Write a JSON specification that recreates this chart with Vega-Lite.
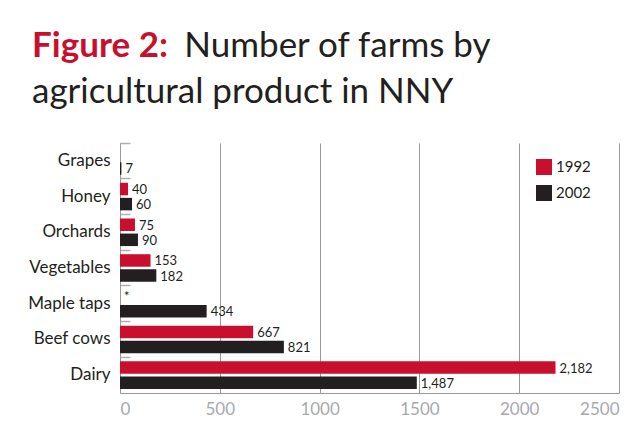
{
  "$schema": "https://vega.github.io/schema/vega-lite/v6.json",
  "width": 499,
  "height": 250,
  "autosize": {"type": "none"},
  "padding": {"left": 120, "top": 143, "right": 24, "bottom": 51},
  "background": "white",
  "title": {
    "text": "Figure 2:",
    "subtitle": ["\u200b\u00a0\u00a0\u00a0\u00a0\u00a0\u00a0\u00a0\u00a0\u00a0\u00a0\u00a0\u00a0\u00a0\u00a0\u00a0\u00a0\u00a0Number of farms by", "agricultural product in NNY"],
    "anchor": "start",
    "frame": "group",
    "dx": -88,
    "offset": 32,
    "font": "Lato",
    "fontSize": 35,
    "fontWeight": "bold",
    "color": "#c8102e",
    "subtitleFont": "Lato",
    "subtitleFontSize": 35,
    "subtitleFontWeight": "normal",
    "subtitleColor": "#231f20",
    "subtitleLineHeight": 46,
    "subtitlePadding": -35
  },
  "data": {
    "values": [
      {"product": "Grapes", "year": "2002", "farms": 7, "label": "7"},
      {"product": "Honey", "year": "1992", "farms": 40, "label": "40"},
      {"product": "Honey", "year": "2002", "farms": 60, "label": "60"},
      {"product": "Orchards", "year": "1992", "farms": 75, "label": "75"},
      {"product": "Orchards", "year": "2002", "farms": 90, "label": "90"},
      {"product": "Vegetables", "year": "1992", "farms": 153, "label": "153"},
      {"product": "Vegetables", "year": "2002", "farms": 182, "label": "182"},
      {"product": "Maple taps", "year": "1992", "farms": 0, "label": "*"},
      {"product": "Maple taps", "year": "2002", "farms": 434, "label": "434"},
      {"product": "Beef cows", "year": "1992", "farms": 667, "label": "667"},
      {"product": "Beef cows", "year": "2002", "farms": 821, "label": "821"},
      {"product": "Dairy", "year": "1992", "farms": 2182, "label": "2,182"},
      {"product": "Dairy", "year": "2002", "farms": 1487, "label": "1,487"}
    ]
  },
  "encoding": {
    "y": {
      "field": "product",
      "type": "nominal",
      "sort": ["Grapes", "Honey", "Orchards", "Vegetables", "Maple taps", "Beef cows", "Dairy"],
      "scale": {"paddingInner": 0, "paddingOuter": 0},
      "axis": {
        "title": null,
        "bandPosition": 0,
        "domain": true,
        "domainColor": "#9a9a9a",
        "ticks": true,
        "tickSize": -10,
        "tickColor": "#b0b0b0",
        "tickWidth": 1.5,
        "labelFont": "Lato",
        "labelFontSize": 17,
        "labelColor": "#231f20",
        "labelPadding": 20,
        "grid": false
      }
    },
    "yOffset": {
      "field": "year",
      "type": "nominal",
      "scale": {"paddingInner": 0.17, "paddingOuter": 0.27}
    },
    "x": {
      "field": "farms",
      "type": "quantitative",
      "scale": {"domain": [0, 2500], "nice": false},
      "axis": {
        "title": null,
        "values": [0, 500, 1000, 1500, 2000, 2500],
        "format": "d",
        "grid": true,
        "gridColor": "#9a9a9a",
        "gridWidth": 1,
        "ticks": false,
        "domain": true,
        "domainColor": "#9a9a9a",
        "labelFont": "Lato",
        "labelFontSize": 17,
        "labelColor": "#a7a9ac",
        "labelPadding": 8
      }
    }
  },
  "layer": [
    {
      "mark": {"type": "bar"},
      "encoding": {
        "color": {
          "field": "year",
          "type": "nominal",
          "scale": {"domain": ["1992", "2002"], "range": ["#c8102e", "#231f20"]},
          "legend": {
            "title": null,
            "orient": "none",
            "legendX": 416,
            "legendY": 16,
            "symbolType": "square",
            "symbolSize": 256,
            "symbolStrokeWidth": 0,
            "symbolOpacity": 1,
            "labelFont": "Lato",
            "labelFontSize": 15,
            "labelColor": "#231f20",
            "labelOffset": 4,
            "rowPadding": 10
          }
        }
      }
    },
    {
      "mark": {"type": "text", "align": "left", "baseline": "middle", "dx": 4, "dy": 1, "font": "Lato", "fontSize": 13, "color": "#231f20"},
      "encoding": {"text": {"field": "label"}}
    }
  ],
  "config": {"view": {"stroke": null}}
}
